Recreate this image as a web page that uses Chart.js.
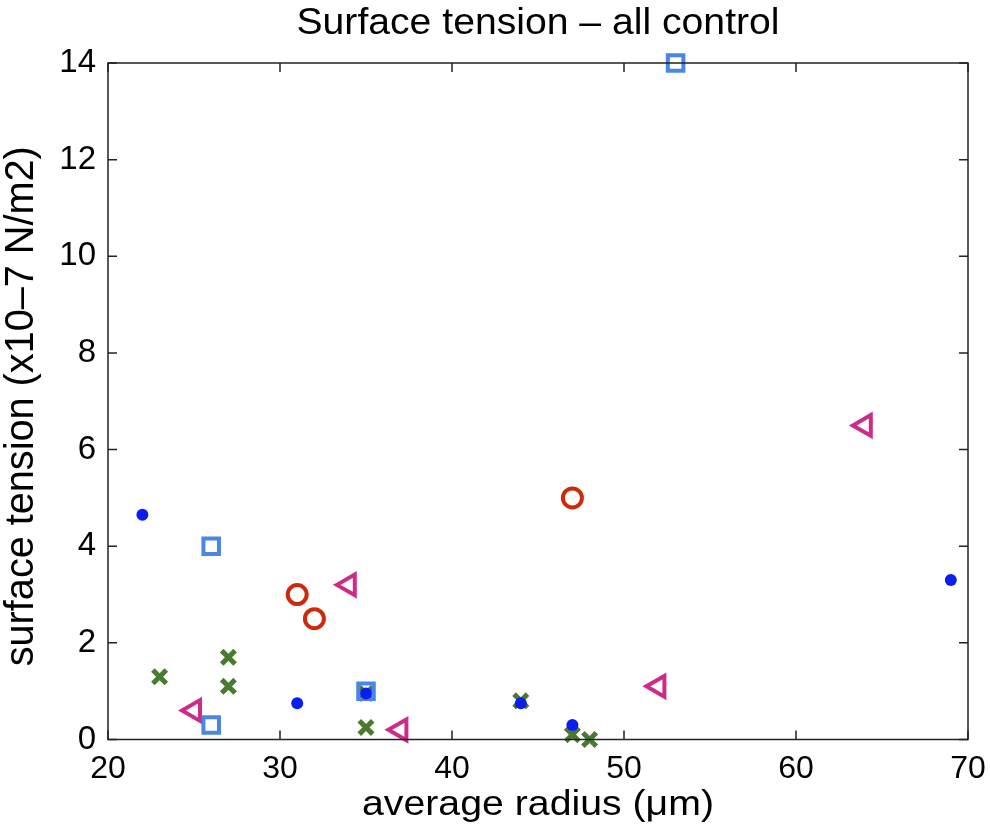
<!DOCTYPE html>
<html>
<head>
<meta charset="utf-8">
<script src="https://cdn.jsdelivr.net/npm/chart.js@4"></script>
<style>
  html, body { margin: 0; padding: 0; background: #fff; }
  #wrap { width: 990px; height: 828px; }
</style>
</head>
<body>
<div id="wrap"><canvas id="chart" width="990" height="828"></canvas></div>
<script>
// values (x = average radius in µm, y = surface tension)
const dotX = [22, 31, 35, 44, 47, 69];
const dotY = [4.65, 0.75, 0.95, 0.75, 0.3, 3.3];
const squareX = [26, 26, 35, 53];
const squareY = [4, 0.3, 1, 14];
const circleX = [31, 32, 47];
const circleY = [3, 2.5, 5];
const triX = [25, 34, 37, 52, 64];
const triY = [0.6, 3.2, 0.2, 1.1, 6.5];
const crossX = [23, 27, 27, 35, 35, 44, 47, 48];
const crossY = [1.3, 1.7, 1.1, 0.95, 0.25, 0.8, 0.1, 0];

const xTicks = [20, 30, 40, 50, 60, 70];
const yTicks = [0, 2, 4, 6, 8, 10, 12, 14];

const titleText = "Surface tension \u2013 all control";
const xLabel = "average radius (\u03bcm)";
const yLabel = "surface tension (x10\u20137 N/m2)";

const pts = (xs, ys) => xs.map((x, i) => ({x, y: ys[i]}));
const FONT = "'Liberation Sans', Arial, sans-serif";

// the matlab text is wider than Arial, so stretch it to the same width
function stretchedText(ctx, text, size, cx, cy, targetW, rot) {
    ctx.save();
    ctx.font = `${size}px ${FONT}`;
    const w = ctx.measureText(text).width;
    ctx.translate(cx, cy);
    if (rot) ctx.rotate(rot);
    ctx.scale(targetW / w, 1);
    ctx.fillStyle = "#000";
    ctx.textAlign = "center";
    ctx.textBaseline = "alphabetic";
    ctx.fillText(text, 0, 0);
    ctx.restore();
}

const labelsPlugin = {
    id: "labels",
    afterDraw(chart) {
        const {ctx, chartArea: a} = chart;
        const mid = (a.left + a.right) / 2;
        stretchedText(ctx, titleText, 36, mid, 34, 483);
        stretchedText(ctx, xLabel, 35, mid, 815, 352);
        stretchedText(ctx, yLabel, 40, 33, (a.top + a.bottom) / 2 + 5, 520, -Math.PI / 2);
    }
};

// MATLAB style box with inward ticks
const boxPlugin = {
    id: "box",
    afterDatasetsDraw(chart) {
        const {ctx, chartArea: a, scales} = chart;
        ctx.save();
        ctx.strokeStyle = "#222";
        ctx.lineWidth = 1.5;
        ctx.strokeRect(a.left, a.top, a.right - a.left, a.bottom - a.top);
        ctx.beginPath();
        xTicks.forEach(v => {
            const px = scales.x.getPixelForValue(v);
            ctx.moveTo(px, a.bottom); ctx.lineTo(px, a.bottom - 9);
            ctx.moveTo(px, a.top); ctx.lineTo(px, a.top + 9);
        });
        yTicks.forEach(v => {
            const py = scales.y.getPixelForValue(v);
            ctx.moveTo(a.left, py); ctx.lineTo(a.left + 9, py);
            ctx.moveTo(a.right, py); ctx.lineTo(a.right - 9, py);
        });
        ctx.stroke();
        ctx.restore();
    }
};

new Chart(document.getElementById("chart"), {
    type: "scatter",
    data: {
        datasets: [
            {
                data: pts(dotX, dotY), pointStyle: "circle", pointRadius: 6,
                backgroundColor: "#0a1ef0", borderColor: "#0a1ef0", borderWidth: 0
            },
            {
                data: pts(squareX, squareY), pointStyle: "rect", pointRadius: 11,
                backgroundColor: "rgba(0,0,0,0)", borderColor: "#4a86e8", borderWidth: 4
            },
            {
                data: pts(circleX, circleY), pointStyle: "circle", pointRadius: 9.5,
                backgroundColor: "rgba(0,0,0,0)", borderColor: "#cc2a0a", borderWidth: 4
            },
            {
                data: pts(triX, triY), pointStyle: "triangle", pointRadius: 12, rotation: -90,
                backgroundColor: "rgba(0,0,0,0)", borderColor: "#cc2c88", borderWidth: 4
            },
            {
                data: pts(crossX, crossY), pointStyle: "crossRot", pointRadius: 9.5,
                backgroundColor: "#4a7a30", borderColor: "#4a7a30", borderWidth: 5
            }
        ].map(d => ({...d, clip: false, pointHoverRadius: d.pointRadius}))
    },
    options: {
        responsive: false,
        animation: false,
        layout: {padding: {left: 0, right: 22, top: 63, bottom: 0}},
        plugins: {
            legend: {display: false},
            tooltip: {enabled: false},
            title: {display: false}
        },
        scales: {
            x: {
                type: "linear", min: 20, max: 70,
                afterBuildTicks: s => { s.ticks = xTicks.map(v => ({value: v})); },
                afterFit: s => { s.height = 88.5; },
                grid: {display: false},
                border: {display: false},
                ticks: {color: "#000", font: {family: FONT, size: 32}, padding: 2}
            },
            y: {
                type: "linear", min: 0, max: 14,
                afterBuildTicks: s => { s.ticks = yTicks.map(v => ({value: v})); },
                afterFit: s => { s.width = 108; },
                grid: {display: false},
                border: {display: false},
                ticks: {color: "#000", font: {family: FONT, size: 33}, padding: 4}
            }
        }
    },
    plugins: [boxPlugin, labelsPlugin]
});
</script>
</body>
</html>
